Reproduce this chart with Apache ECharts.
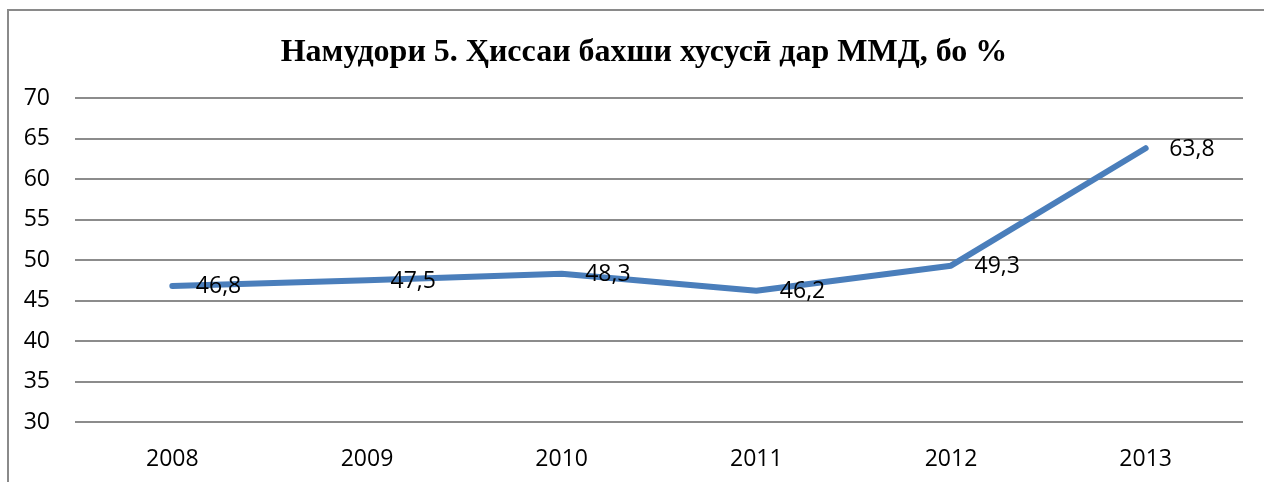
<!DOCTYPE html>
<html><head><meta charset="utf-8">
<script src="https://cdn.jsdelivr.net/npm/echarts@6/dist/echarts.min.js"></script>
<style>html,body{margin:0;padding:0;background:#fff;overflow:hidden}#c{width:1264px;height:482px}</style>
</head><body><div id="c"></div>
<script>
const titleText = 'Намудори 5. Ҳиссаи бахши хусусӣ дар ММД, бо %';
const categories = ['2008', '2009', '2010', '2011', '2012', '2013'];
const values = [46.8, 47.5, 48.3, 46.2, 49.3, 63.8];
const yTicks = [30, 35, 40, 45, 50, 55, 60, 65, 70];

const chart = echarts.init(document.getElementById('c'), null, {renderer: 'canvas'});
const font = 'Open Sans';
chart.setOption({
  animation: false,
  backgroundColor: '#fff',
  graphic: [{
    type: 'line', silent: true, z: -1,
    shape: {x1: 8, y1: 9, x2: 8, y2: 482},
    style: {stroke: '#8a8a8a', lineWidth: 2}
  }, {
    type: 'line', silent: true, z: -1,
    shape: {x1: 7, y1: 10, x2: 1264, y2: 10},
    style: {stroke: '#8a8a8a', lineWidth: 2}
  }],
  title: {
    text: titleText, left: 639, top: 32, textAlign: 'center',
    textStyle: {fontFamily: 'Liberation Serif', fontWeight: 'bold', fontSize: 32, color: '#000'}
  },
  grid: {left: 75, right: 21, top: 98, bottom: 60},
  xAxis: {
    type: 'category', data: categories, boundaryGap: true,
    axisLine: {show: false}, axisTick: {show: false},
    axisLabel: {color: '#000', fontFamily: font, fontSize: 23, margin: 26}
  },
  yAxis: {
    type: 'value', min: yTicks[0], max: yTicks[yTicks.length - 1], interval: 5,
    axisLine: {show: false}, axisTick: {show: false},
    axisLabel: {color: '#000', fontFamily: font, fontSize: 23, margin: 25},
    splitLine: {lineStyle: {color: '#8c8c8c', width: 2}}
  },
  series: [{
    type: 'line', data: values, showSymbol: true, symbol: 'circle', symbolSize: 1,
    itemStyle: {color: '#4a7ebb', opacity: 0},
    lineStyle: {color: '#4a7ebb', width: 6, cap: 'round', join: 'round'},
    label: {
      show: true, position: 'right', distance: 23, offset: [0, 1], color: '#000', opacity: 1,
      fontFamily: font, fontSize: 23,
      formatter: p => String(p.value).replace('.', ',')
    }
  }]
});
</script></body></html>
